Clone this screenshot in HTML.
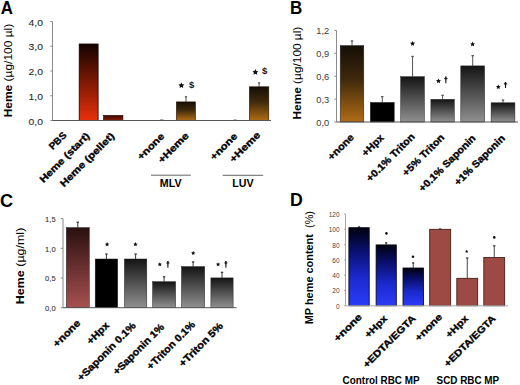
<!DOCTYPE html>
<html><head><meta charset="utf-8"><style>
html,body{margin:0;padding:0;background:#fff;width:520px;height:385px;overflow:hidden}
svg{display:block}
</style></head><body>
<svg width="520" height="385" viewBox="0 0 520 385" font-family='"Liberation Sans", sans-serif'>
<defs>
<linearGradient id="gRed" x1="0" y1="0" x2="0" y2="1"><stop offset="0" stop-color="#140200"/><stop offset="1" stop-color="#e8300a"/></linearGradient>
<linearGradient id="gRedP" x1="0" y1="0" x2="0" y2="1"><stop offset="0" stop-color="#3a0a00"/><stop offset="1" stop-color="#8a1c08"/></linearGradient>
<linearGradient id="gBrn" x1="0" y1="0" x2="0" y2="1"><stop offset="0" stop-color="#140e06"/><stop offset="0.45" stop-color="#402a0c"/><stop offset="1" stop-color="#b06c16"/></linearGradient>
<linearGradient id="gGry" x1="0" y1="0" x2="0" y2="1"><stop offset="0" stop-color="#141414"/><stop offset="1" stop-color="#909090"/></linearGradient>
<linearGradient id="gMau" x1="0" y1="0" x2="0" y2="1"><stop offset="0" stop-color="#2a1010"/><stop offset="1" stop-color="#a85050"/></linearGradient>
<linearGradient id="gBlu" x1="0" y1="0" x2="0" y2="1"><stop offset="0" stop-color="#00000e"/><stop offset="0.3" stop-color="#0a1070"/><stop offset="0.65" stop-color="#1c2ad0"/><stop offset="1" stop-color="#2a3cf8"/></linearGradient>
</defs>
<rect width="520" height="385" fill="#fff"/>
<text x="0.75" y="13.50" font-size="18" font-weight="bold" text-anchor="start" fill="#000" textLength="12.15" lengthAdjust="spacingAndGlyphs">A</text>
<line x1="52.5" y1="21.50" x2="52.5" y2="120.50" stroke="#8a8a8a" stroke-width="1"/>
<line x1="50.3" y1="120.50" x2="52.5" y2="120.50" stroke="#8a8a8a" stroke-width="1"/>
<text x="43.00" y="124.60" font-size="9" font-weight="normal" text-anchor="end" fill="#2a2a2a" textLength="14.40" lengthAdjust="spacingAndGlyphs" stroke="#2a2a2a" stroke-width="0.1">0,0</text>
<line x1="50.3" y1="95.75" x2="52.5" y2="95.75" stroke="#8a8a8a" stroke-width="1"/>
<text x="43.00" y="99.85" font-size="9" font-weight="normal" text-anchor="end" fill="#2a2a2a" textLength="14.40" lengthAdjust="spacingAndGlyphs" stroke="#2a2a2a" stroke-width="0.1">1,0</text>
<line x1="50.3" y1="71.00" x2="52.5" y2="71.00" stroke="#8a8a8a" stroke-width="1"/>
<text x="43.00" y="75.10" font-size="9" font-weight="normal" text-anchor="end" fill="#2a2a2a" textLength="14.40" lengthAdjust="spacingAndGlyphs" stroke="#2a2a2a" stroke-width="0.1">2,0</text>
<line x1="50.3" y1="46.25" x2="52.5" y2="46.25" stroke="#8a8a8a" stroke-width="1"/>
<text x="43.00" y="50.35" font-size="9" font-weight="normal" text-anchor="end" fill="#2a2a2a" textLength="14.40" lengthAdjust="spacingAndGlyphs" stroke="#2a2a2a" stroke-width="0.1">3,0</text>
<line x1="50.3" y1="21.50" x2="52.5" y2="21.50" stroke="#8a8a8a" stroke-width="1"/>
<text x="43.00" y="25.60" font-size="9" font-weight="normal" text-anchor="end" fill="#2a2a2a" textLength="14.40" lengthAdjust="spacingAndGlyphs" stroke="#2a2a2a" stroke-width="0.1">4,0</text>
<text x="12.20" y="117.25" font-size="11.4" xml:space="preserve" fill="#000" textLength="93.45" lengthAdjust="spacingAndGlyphs" transform="rotate(-90 12.20 117.25)"><tspan font-weight="bold">Heme </tspan><tspan font-weight="normal">(µg/100 µl)</tspan></text>
<rect x="79.20" y="44.00" width="18.90" height="76.50" fill="url(#gRed)" stroke="#100" stroke-width="0.8"/>
<rect x="103.50" y="115.40" width="19.40" height="5.10" fill="url(#gRedP)" stroke="#200" stroke-width="0.6"/>
<line x1="160" y1="120.2" x2="163.5" y2="120.2" stroke="#333" stroke-width="1.2"/>
<line x1="233.8" y1="120.2" x2="236.5" y2="120.2" stroke="#333" stroke-width="1.2"/>
<line x1="186.00" y1="96.80" x2="186.00" y2="101.90" stroke="#555" stroke-width="1.0"/>
<rect x="184.90" y="96.20" width="2.20" height="1.3" fill="#555"/>
<rect x="176.40" y="101.90" width="19.00" height="18.60" fill="url(#gBrn)" stroke="#201000" stroke-width="0.6"/>
<line x1="259.10" y1="82.90" x2="259.10" y2="86.80" stroke="#555" stroke-width="1.0"/>
<rect x="258.00" y="82.30" width="2.20" height="1.3" fill="#555"/>
<rect x="249.40" y="86.80" width="19.40" height="33.70" fill="url(#gBrn)" stroke="#201000" stroke-width="0.6"/>
<line x1="52.5" y1="120.5" x2="271" y2="120.5" stroke="#555" stroke-width="1"/>
<polygon points="181.40,82.47 182.31,84.32 184.35,84.61 182.87,86.05 183.22,88.08 181.40,87.12 179.58,88.08 179.93,86.05 178.45,84.61 180.49,84.32" fill="#111"/>
<text x="191.65" y="88.31" font-size="9.30" font-weight="bold" text-anchor="middle" fill="#111" textLength="5.30" lengthAdjust="spacingAndGlyphs">$</text>
<polygon points="255.40,69.07 256.31,70.92 258.35,71.21 256.87,72.65 257.22,74.68 255.40,73.72 253.58,74.68 253.93,72.65 252.45,71.21 254.49,70.92" fill="#111"/>
<text x="264.55" y="74.32" font-size="9.18" font-weight="bold" text-anchor="middle" fill="#111" textLength="5.30" lengthAdjust="spacingAndGlyphs">$</text>
<text x="67.10" y="135.95" font-size="9.6" font-weight="bold" text-anchor="end" fill="#000" stroke="#000" stroke-width="0.35" textLength="20.36" lengthAdjust="spacingAndGlyphs" transform="rotate(-45 67.10 135.95)">PBS</text>
<text x="90.30" y="136.45" font-size="9.6" font-weight="bold" text-anchor="end" fill="#000" stroke="#000" stroke-width="0.35" textLength="66.32" lengthAdjust="spacingAndGlyphs" transform="rotate(-45 90.30 136.45)">Heme (start)</text>
<text x="115.00" y="136.45" font-size="9.6" font-weight="bold" text-anchor="end" fill="#000" stroke="#000" stroke-width="0.35" textLength="72.12" lengthAdjust="spacingAndGlyphs" transform="rotate(-45 115.00 136.45)">Heme (pellet)</text>
<text x="164.90" y="136.85" font-size="9.6" font-weight="bold" text-anchor="end" fill="#000" stroke="#000" stroke-width="0.35" textLength="33.59" lengthAdjust="spacingAndGlyphs" transform="rotate(-45 164.90 136.85)">+none</text>
<text x="189.40" y="136.25" font-size="9.6" font-weight="bold" text-anchor="end" fill="#000" stroke="#000" stroke-width="0.35" textLength="38.89" lengthAdjust="spacingAndGlyphs" transform="rotate(-45 189.40 136.25)">+Heme</text>
<text x="237.90" y="136.85" font-size="9.6" font-weight="bold" text-anchor="end" fill="#000" stroke="#000" stroke-width="0.35" textLength="33.80" lengthAdjust="spacingAndGlyphs" transform="rotate(-45 237.90 136.85)">+none</text>
<text x="260.90" y="135.55" font-size="9.6" font-weight="bold" text-anchor="end" fill="#000" stroke="#000" stroke-width="0.35" textLength="38.68" lengthAdjust="spacingAndGlyphs" transform="rotate(-45 260.90 135.55)">+Heme</text>
<line x1="151" y1="175.2" x2="190.8" y2="175.2" stroke="#666" stroke-width="1"/>
<line x1="222.7" y1="175.3" x2="263.2" y2="175.3" stroke="#666" stroke-width="1"/>
<text x="159.80" y="187.40" font-size="10.5" font-weight="bold" text-anchor="start" fill="#000" textLength="21.70" lengthAdjust="spacingAndGlyphs">MLV</text>
<text x="232.30" y="186.70" font-size="10.5" font-weight="bold" text-anchor="start" fill="#000" textLength="21.40" lengthAdjust="spacingAndGlyphs">LUV</text>
<text x="290.00" y="13.60" font-size="18" font-weight="bold" text-anchor="start" fill="#000" textLength="12.25" lengthAdjust="spacingAndGlyphs">B</text>
<line x1="336.5" y1="30.40" x2="336.5" y2="122.00" stroke="#8a8a8a" stroke-width="1"/>
<line x1="334.3" y1="122.00" x2="336.5" y2="122.00" stroke="#8a8a8a" stroke-width="1"/>
<text x="329.20" y="125.80" font-size="8.5" font-weight="normal" text-anchor="end" fill="#3a3a3a" textLength="12.90" lengthAdjust="spacingAndGlyphs">0,0</text>
<line x1="334.3" y1="99.10" x2="336.5" y2="99.10" stroke="#8a8a8a" stroke-width="1"/>
<text x="329.20" y="102.90" font-size="8.5" font-weight="normal" text-anchor="end" fill="#3a3a3a" textLength="12.90" lengthAdjust="spacingAndGlyphs">0,3</text>
<line x1="334.3" y1="76.20" x2="336.5" y2="76.20" stroke="#8a8a8a" stroke-width="1"/>
<text x="329.20" y="80.00" font-size="8.5" font-weight="normal" text-anchor="end" fill="#3a3a3a" textLength="12.90" lengthAdjust="spacingAndGlyphs">0,6</text>
<line x1="334.3" y1="53.30" x2="336.5" y2="53.30" stroke="#8a8a8a" stroke-width="1"/>
<text x="329.20" y="57.10" font-size="8.5" font-weight="normal" text-anchor="end" fill="#3a3a3a" textLength="12.90" lengthAdjust="spacingAndGlyphs">0,9</text>
<line x1="334.3" y1="30.40" x2="336.5" y2="30.40" stroke="#8a8a8a" stroke-width="1"/>
<text x="329.20" y="34.20" font-size="8.5" font-weight="normal" text-anchor="end" fill="#3a3a3a" textLength="12.90" lengthAdjust="spacingAndGlyphs">1,2</text>
<text x="301.20" y="119.50" font-size="11.4" xml:space="preserve" fill="#000" textLength="92.80" lengthAdjust="spacingAndGlyphs" transform="rotate(-90 301.20 119.50)"><tspan font-weight="bold">Heme </tspan><tspan font-weight="normal">(µg/100 µl)</tspan></text>
<line x1="352.00" y1="40.90" x2="352.00" y2="45.60" stroke="#555" stroke-width="1.0"/>
<rect x="350.80" y="40.30" width="2.40" height="1.3" fill="#555"/>
<rect x="340.20" y="45.60" width="23.60" height="76.40" fill="url(#gBrn)" stroke="#222" stroke-width="0.5"/>
<line x1="382.25" y1="96.60" x2="382.25" y2="102.40" stroke="#555" stroke-width="1.0"/>
<rect x="381.05" y="96.00" width="2.40" height="1.3" fill="#555"/>
<rect x="370.30" y="102.40" width="23.90" height="19.60" fill="#000" stroke="#222" stroke-width="0.5"/>
<line x1="412.55" y1="56.40" x2="412.55" y2="76.70" stroke="#555" stroke-width="1.0"/>
<rect x="411.35" y="55.80" width="2.40" height="1.3" fill="#555"/>
<rect x="400.70" y="76.70" width="23.70" height="45.30" fill="url(#gGry)" stroke="#222" stroke-width="0.5"/>
<line x1="442.60" y1="95.30" x2="442.60" y2="99.30" stroke="#555" stroke-width="1.0"/>
<rect x="441.40" y="94.70" width="2.40" height="1.3" fill="#555"/>
<rect x="430.90" y="99.30" width="23.40" height="22.70" fill="url(#gGry)" stroke="#222" stroke-width="0.5"/>
<line x1="472.70" y1="55.60" x2="472.70" y2="65.90" stroke="#555" stroke-width="1.0"/>
<rect x="471.50" y="55.00" width="2.40" height="1.3" fill="#555"/>
<rect x="460.80" y="65.90" width="23.80" height="56.10" fill="url(#gGry)" stroke="#222" stroke-width="0.5"/>
<line x1="503.00" y1="100.10" x2="503.00" y2="102.80" stroke="#555" stroke-width="1.0"/>
<rect x="501.80" y="99.50" width="2.40" height="1.3" fill="#555"/>
<rect x="491.10" y="102.80" width="23.80" height="19.20" fill="url(#gGry)" stroke="#222" stroke-width="0.5"/>
<polygon points="412.60,41.01 413.36,42.56 415.07,42.81 413.84,44.01 414.13,45.72 412.60,44.91 411.07,45.72 411.36,44.01 410.13,42.81 411.84,42.56" fill="#111"/>
<polygon points="472.60,41.61 473.36,43.16 475.07,43.41 473.84,44.61 474.13,46.32 472.60,45.51 471.07,46.32 471.36,44.61 470.13,43.41 471.84,43.16" fill="#111"/>
<polygon points="438.50,78.46 439.26,80.01 440.97,80.26 439.74,81.46 440.03,83.17 438.50,82.36 436.97,83.17 437.26,81.46 436.03,80.26 437.74,80.01" fill="#111"/>
<path d="M445.10,76.60 L446.60,76.60 L446.35,83.20 L445.35,83.20 Z" fill="#111"/>
<rect x="444.25" y="78.05" width="3.20" height="1.10" fill="#111"/>
<polygon points="498.30,84.40 499.03,85.89 500.68,86.13 499.49,87.29 499.77,88.92 498.30,88.15 496.83,88.92 497.11,87.29 495.92,86.13 497.57,85.89" fill="#111"/>
<path d="M504.75,82.00 L506.25,82.00 L506.00,87.90 L505.00,87.90 Z" fill="#111"/>
<rect x="503.90" y="83.30" width="3.20" height="1.10" fill="#111"/>
<line x1="336.5" y1="122" x2="518" y2="122" stroke="#555" stroke-width="1"/>
<text x="354.60" y="137.95" font-size="10" font-weight="bold" text-anchor="end" fill="#000" stroke="#000" stroke-width="0.35" textLength="32.24" lengthAdjust="spacingAndGlyphs" transform="rotate(-45 354.60 137.95)">+none</text>
<text x="384.40" y="138.35" font-size="10" font-weight="bold" text-anchor="end" fill="#000" stroke="#000" stroke-width="0.35" textLength="26.23" lengthAdjust="spacingAndGlyphs" transform="rotate(-45 384.40 138.35)">+Hpx</text>
<text x="415.40" y="137.25" font-size="10" font-weight="bold" text-anchor="end" fill="#000" stroke="#000" stroke-width="0.35" textLength="63.71" lengthAdjust="spacingAndGlyphs" transform="rotate(-45 415.40 137.25)">+0.1% Triton</text>
<text x="445.00" y="138.05" font-size="10" font-weight="bold" text-anchor="end" fill="#000" stroke="#000" stroke-width="0.35" textLength="54.66" lengthAdjust="spacingAndGlyphs" transform="rotate(-45 445.00 138.05)">+5% Triton</text>
<text x="476.20" y="138.85" font-size="10" font-weight="bold" text-anchor="end" fill="#000" stroke="#000" stroke-width="0.35" textLength="75.52" lengthAdjust="spacingAndGlyphs" transform="rotate(-45 476.20 138.85)">+0.1% Saponin</text>
<text x="505.50" y="138.85" font-size="10" font-weight="bold" text-anchor="end" fill="#000" stroke="#000" stroke-width="0.35" textLength="66.75" lengthAdjust="spacingAndGlyphs" transform="rotate(-45 505.50 138.85)">+1% Saponin</text>
<text x="0.00" y="207.00" font-size="18" font-weight="bold" text-anchor="start" fill="#000" textLength="13.10" lengthAdjust="spacingAndGlyphs">C</text>
<line x1="63" y1="218.60" x2="63" y2="307.70" stroke="#8a8a8a" stroke-width="1"/>
<line x1="60.8" y1="307.70" x2="63" y2="307.70" stroke="#8a8a8a" stroke-width="1"/>
<text x="55.60" y="310.90" font-size="8" font-weight="normal" text-anchor="end" fill="#333" textLength="10.50" lengthAdjust="spacingAndGlyphs" stroke="#333" stroke-width="0.1">0,0</text>
<line x1="60.8" y1="278.00" x2="63" y2="278.00" stroke="#8a8a8a" stroke-width="1"/>
<text x="55.60" y="281.20" font-size="8" font-weight="normal" text-anchor="end" fill="#333" textLength="10.50" lengthAdjust="spacingAndGlyphs" stroke="#333" stroke-width="0.1">0,5</text>
<line x1="60.8" y1="248.30" x2="63" y2="248.30" stroke="#8a8a8a" stroke-width="1"/>
<text x="55.60" y="251.50" font-size="8" font-weight="normal" text-anchor="end" fill="#333" textLength="10.50" lengthAdjust="spacingAndGlyphs" stroke="#333" stroke-width="0.1">1,0</text>
<line x1="60.8" y1="218.60" x2="63" y2="218.60" stroke="#8a8a8a" stroke-width="1"/>
<text x="55.60" y="221.80" font-size="8" font-weight="normal" text-anchor="end" fill="#333" textLength="10.50" lengthAdjust="spacingAndGlyphs" stroke="#333" stroke-width="0.1">1,5</text>
<text x="24.30" y="304.20" font-size="11.4" xml:space="preserve" fill="#000" textLength="76.50" lengthAdjust="spacingAndGlyphs" transform="rotate(-90 24.30 304.20)"><tspan font-weight="bold">Heme </tspan><tspan font-weight="normal">(µg/ml)</tspan></text>
<line x1="77.80" y1="222.25" x2="77.80" y2="227.60" stroke="#3a3a3a" stroke-width="1.0"/>
<rect x="76.60" y="221.65" width="2.40" height="1.3" fill="#3a3a3a"/>
<rect x="66.30" y="227.60" width="23.00" height="80.10" fill="url(#gMau)" stroke="#222" stroke-width="0.5"/>
<line x1="106.45" y1="254.00" x2="106.45" y2="259.00" stroke="#3a3a3a" stroke-width="1.0"/>
<rect x="105.25" y="253.40" width="2.40" height="1.3" fill="#3a3a3a"/>
<rect x="95.20" y="259.00" width="22.50" height="48.70" fill="#000" stroke="#222" stroke-width="0.5"/>
<line x1="135.60" y1="254.00" x2="135.60" y2="259.00" stroke="#3a3a3a" stroke-width="1.0"/>
<rect x="134.40" y="253.40" width="2.40" height="1.3" fill="#3a3a3a"/>
<rect x="124.40" y="259.00" width="22.40" height="48.70" fill="url(#gGry)" stroke="#222" stroke-width="0.5"/>
<line x1="164.10" y1="276.70" x2="164.10" y2="281.70" stroke="#3a3a3a" stroke-width="1.0"/>
<rect x="162.90" y="276.10" width="2.40" height="1.3" fill="#3a3a3a"/>
<rect x="152.60" y="281.70" width="23.00" height="26.00" fill="url(#gGry)" stroke="#222" stroke-width="0.5"/>
<line x1="193.10" y1="261.90" x2="193.10" y2="266.60" stroke="#3a3a3a" stroke-width="1.0"/>
<rect x="191.90" y="261.30" width="2.40" height="1.3" fill="#3a3a3a"/>
<rect x="181.50" y="266.60" width="23.20" height="41.10" fill="url(#gGry)" stroke="#222" stroke-width="0.5"/>
<line x1="222.00" y1="272.30" x2="222.00" y2="277.90" stroke="#3a3a3a" stroke-width="1.0"/>
<rect x="220.80" y="271.70" width="2.40" height="1.3" fill="#3a3a3a"/>
<rect x="210.90" y="277.90" width="22.20" height="29.80" fill="url(#gGry)" stroke="#222" stroke-width="0.5"/>
<polygon points="107.10,242.08 107.78,243.45 109.29,243.67 108.19,244.73 108.45,246.24 107.10,245.53 105.75,246.24 106.01,244.73 104.91,243.67 106.42,243.45" fill="#111"/>
<polygon points="135.40,242.08 136.08,243.45 137.59,243.67 136.49,244.73 136.75,246.24 135.40,245.53 134.05,246.24 134.31,244.73 133.21,243.67 134.72,243.45" fill="#111"/>
<polygon points="159.80,262.26 160.45,263.57 161.89,263.78 160.85,264.80 161.09,266.24 159.80,265.56 158.51,266.24 158.75,264.80 157.71,263.78 159.15,263.57" fill="#111"/>
<path d="M167.15,260.90 L168.65,260.90 L168.40,267.80 L167.40,267.80 Z" fill="#111"/>
<rect x="166.40" y="262.42" width="3.00" height="1.10" fill="#111"/>
<polygon points="193.20,250.86 193.85,252.17 195.29,252.38 194.25,253.40 194.49,254.84 193.20,254.16 191.91,254.84 192.15,253.40 191.11,252.38 192.55,252.17" fill="#111"/>
<polygon points="218.10,262.26 218.75,263.57 220.19,263.78 219.15,264.80 219.39,266.24 218.10,265.56 216.81,266.24 217.05,264.80 216.01,263.78 217.45,263.57" fill="#111"/>
<path d="M225.15,260.90 L226.65,260.90 L226.40,267.80 L225.40,267.80 Z" fill="#111"/>
<rect x="224.40" y="262.42" width="3.00" height="1.10" fill="#111"/>
<line x1="63" y1="307.7" x2="236.5" y2="307.7" stroke="#555" stroke-width="1"/>
<text x="81.00" y="323.75" font-size="10" font-weight="bold" text-anchor="end" fill="#000" stroke="#000" stroke-width="0.35" textLength="33.80" lengthAdjust="spacingAndGlyphs" transform="rotate(-45 81.00 323.75)">+none</text>
<text x="109.70" y="326.05" font-size="10" font-weight="bold" text-anchor="end" fill="#000" stroke="#000" stroke-width="0.35" textLength="26.80" lengthAdjust="spacingAndGlyphs" transform="rotate(-45 109.70 326.05)">+Hpx</text>
<text x="136.50" y="326.35" font-size="10" font-weight="bold" text-anchor="end" fill="#000" stroke="#000" stroke-width="0.35" textLength="77.99" lengthAdjust="spacingAndGlyphs" transform="rotate(-45 136.50 326.35)">+Saponin 0.1%</text>
<text x="164.90" y="327.55" font-size="10" font-weight="bold" text-anchor="end" fill="#000" stroke="#000" stroke-width="0.35" textLength="67.81" lengthAdjust="spacingAndGlyphs" transform="rotate(-45 164.90 327.55)">+Saponin 1%</text>
<text x="195.80" y="325.25" font-size="10" font-weight="bold" text-anchor="end" fill="#000" stroke="#000" stroke-width="0.35" textLength="63.64" lengthAdjust="spacingAndGlyphs" transform="rotate(-45 195.80 325.25)">+Triton 0.1%</text>
<text x="223.70" y="326.65" font-size="10" font-weight="bold" text-anchor="end" fill="#000" stroke="#000" stroke-width="0.35" textLength="57.63" lengthAdjust="spacingAndGlyphs" transform="rotate(-45 223.70 326.65)">+Triton 5%</text>
<text x="290.00" y="206.20" font-size="18" font-weight="bold" text-anchor="start" fill="#000" textLength="12.80" lengthAdjust="spacingAndGlyphs">D</text>
<line x1="345.5" y1="214.00" x2="345.5" y2="305.80" stroke="#a8a8a8" stroke-width="1"/>
<line x1="344.0" y1="305.80" x2="345.5" y2="305.80" stroke="#a8a8a8" stroke-width="1"/>
<text x="339.60" y="308.70" font-size="6.5" font-weight="normal" text-anchor="end" fill="#444" textLength="3.63" lengthAdjust="spacingAndGlyphs">0</text>
<line x1="344.0" y1="290.50" x2="345.5" y2="290.50" stroke="#a8a8a8" stroke-width="1"/>
<text x="339.60" y="293.40" font-size="6.5" font-weight="normal" text-anchor="end" fill="#444" textLength="7.27" lengthAdjust="spacingAndGlyphs">20</text>
<line x1="344.0" y1="275.20" x2="345.5" y2="275.20" stroke="#a8a8a8" stroke-width="1"/>
<text x="339.60" y="278.10" font-size="6.5" font-weight="normal" text-anchor="end" fill="#444" textLength="7.27" lengthAdjust="spacingAndGlyphs">40</text>
<line x1="344.0" y1="259.90" x2="345.5" y2="259.90" stroke="#a8a8a8" stroke-width="1"/>
<text x="339.60" y="262.80" font-size="6.5" font-weight="normal" text-anchor="end" fill="#444" textLength="7.27" lengthAdjust="spacingAndGlyphs">60</text>
<line x1="344.0" y1="244.60" x2="345.5" y2="244.60" stroke="#a8a8a8" stroke-width="1"/>
<text x="339.60" y="247.50" font-size="6.5" font-weight="normal" text-anchor="end" fill="#444" textLength="7.27" lengthAdjust="spacingAndGlyphs">80</text>
<line x1="344.0" y1="229.30" x2="345.5" y2="229.30" stroke="#a8a8a8" stroke-width="1"/>
<text x="339.60" y="232.20" font-size="6.5" font-weight="normal" text-anchor="end" fill="#444" textLength="10.90" lengthAdjust="spacingAndGlyphs">100</text>
<line x1="344.0" y1="214.00" x2="345.5" y2="214.00" stroke="#a8a8a8" stroke-width="1"/>
<text x="339.60" y="216.90" font-size="6.5" font-weight="normal" text-anchor="end" fill="#444" textLength="10.90" lengthAdjust="spacingAndGlyphs">120</text>
<text x="312.70" y="324.25" font-size="11.4" xml:space="preserve" fill="#000" textLength="113.25" lengthAdjust="spacingAndGlyphs" transform="rotate(-90 312.70 324.25)"><tspan font-weight="bold">MP heme content  </tspan><tspan font-weight="normal">(%)</tspan></text>
<line x1="359.05" y1="226.90" x2="359.05" y2="227.70" stroke="#333" stroke-width="0.9"/>
<rect x="357.95" y="226.30" width="2.20" height="1.3" fill="#333"/>
<rect x="348.90" y="227.70" width="20.30" height="78.10" fill="url(#gBlu)" stroke="#000010" stroke-width="0.8"/>
<line x1="386.20" y1="242.80" x2="386.20" y2="244.90" stroke="#333" stroke-width="0.9"/>
<rect x="385.10" y="242.20" width="2.20" height="1.3" fill="#333"/>
<rect x="376.10" y="244.90" width="20.20" height="60.90" fill="url(#gBlu)" stroke="#000010" stroke-width="0.8"/>
<line x1="413.25" y1="262.90" x2="413.25" y2="268.00" stroke="#333" stroke-width="0.9"/>
<rect x="412.15" y="262.30" width="2.20" height="1.3" fill="#333"/>
<rect x="403.00" y="268.00" width="20.50" height="37.80" fill="url(#gBlu)" stroke="#000010" stroke-width="0.8"/>
<line x1="440.20" y1="229.00" x2="440.20" y2="229.30" stroke="#333" stroke-width="0.9"/>
<rect x="439.10" y="228.40" width="2.20" height="1.3" fill="#333"/>
<rect x="429.70" y="229.30" width="21.00" height="76.50" fill="#9c4a43" stroke="#3a1410" stroke-width="0.8"/>
<line x1="467.25" y1="258.00" x2="467.25" y2="278.30" stroke="#333" stroke-width="0.9"/>
<rect x="466.15" y="257.40" width="2.20" height="1.3" fill="#333"/>
<rect x="456.80" y="278.30" width="20.90" height="27.50" fill="#9c4a43" stroke="#3a1410" stroke-width="0.8"/>
<line x1="494.25" y1="245.80" x2="494.25" y2="257.50" stroke="#333" stroke-width="0.9"/>
<rect x="493.15" y="245.20" width="2.20" height="1.3" fill="#333"/>
<rect x="483.80" y="257.50" width="20.90" height="48.30" fill="#9c4a43" stroke="#3a1410" stroke-width="0.8"/>
<circle cx="386.40" cy="233.40" r="1.3" fill="#111"/>
<circle cx="413.00" cy="256.80" r="1.3" fill="#111"/>
<polygon points="466.70,249.80 467.20,250.82 468.32,250.98 467.51,251.77 467.70,252.88 466.70,252.35 465.70,252.88 465.89,251.77 465.08,250.98 466.20,250.82" fill="#111"/>
<circle cx="494.30" cy="237.40" r="1.3" fill="#111"/>
<line x1="345.5" y1="305.8" x2="508" y2="305.8" stroke="#aaa" stroke-width="1"/>
<text x="362.40" y="317.55" font-size="9.6" font-weight="bold" text-anchor="end" fill="#000" stroke="#000" stroke-width="0.35" textLength="34.86" lengthAdjust="spacingAndGlyphs" transform="rotate(-45 362.40 317.55)">+none</text>
<text x="387.90" y="319.15" font-size="9.6" font-weight="bold" text-anchor="end" fill="#000" stroke="#000" stroke-width="0.35" textLength="27.50" lengthAdjust="spacingAndGlyphs" transform="rotate(-45 387.90 319.15)">+Hpx</text>
<text x="416.20" y="319.15" font-size="9.6" font-weight="bold" text-anchor="end" fill="#000" stroke="#000" stroke-width="0.35" textLength="69.65" lengthAdjust="spacingAndGlyphs" transform="rotate(-45 416.20 319.15)">+EDTA/EGTA</text>
<text x="442.90" y="317.55" font-size="9.6" font-weight="bold" text-anchor="end" fill="#000" stroke="#000" stroke-width="0.35" textLength="34.29" lengthAdjust="spacingAndGlyphs" transform="rotate(-45 442.90 317.55)">+none</text>
<text x="468.90" y="319.15" font-size="9.6" font-weight="bold" text-anchor="end" fill="#000" stroke="#000" stroke-width="0.35" textLength="27.43" lengthAdjust="spacingAndGlyphs" transform="rotate(-45 468.90 319.15)">+Hpx</text>
<text x="496.20" y="319.15" font-size="9.6" font-weight="bold" text-anchor="end" fill="#000" stroke="#000" stroke-width="0.35" textLength="68.23" lengthAdjust="spacingAndGlyphs" transform="rotate(-45 496.20 319.15)">+EDTA/EGTA</text>
<text x="342.60" y="383.90" font-size="10.5" font-weight="bold" text-anchor="start" fill="#000" textLength="77.00" lengthAdjust="spacingAndGlyphs">Control RBC MP</text>
<text x="436.60" y="383.90" font-size="10.5" font-weight="bold" text-anchor="start" fill="#000" textLength="62.60" lengthAdjust="spacingAndGlyphs">SCD RBC MP</text>
</svg>
</body></html>
